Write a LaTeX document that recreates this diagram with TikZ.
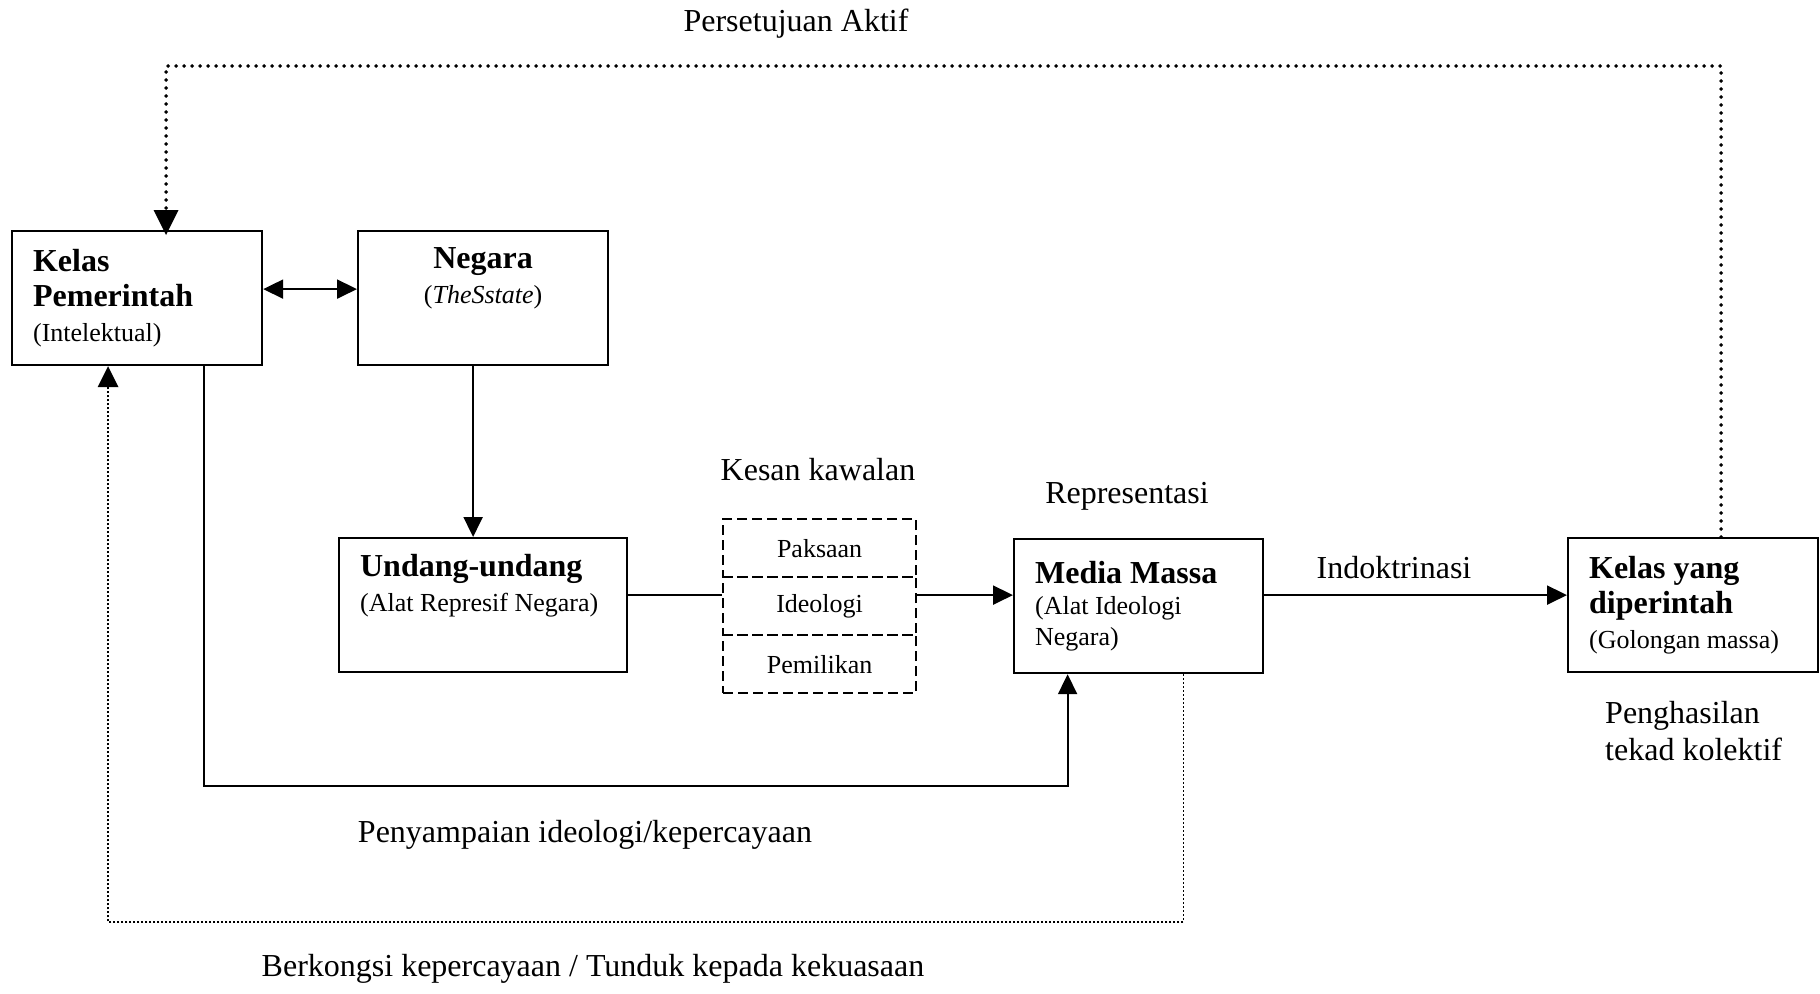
\documentclass[tikz,border=0pt]{standalone}
\usepackage{fontspec}
\setmainfont{Liberation Serif}
\usetikzlibrary{arrows.meta}
\newcommand{\bigf}{\fontsize{32}{35}\selectfont}
\newcommand{\smallf}{\fontsize{26}{35}\selectfont}
\tikzset{
  box/.style={draw, line width=2.2pt, rectangle, inner sep=0pt, inner xsep=21pt, align=flush left, font=\bigf},
  dbox/.style={draw, dash pattern=on 10pt off 5pt, line width=2.2pt, rectangle, inner sep=0pt,
    minimum width=193pt, minimum height=58pt, font=\smallf},
  conn/.style={line width=2pt},
  tip/.style={-{Triangle[length=20pt,width=19pt]}},
  lbl/.style={font=\bigf, inner sep=0pt},
  topdots/.style={line width=3.8pt, dash pattern=on 0pt off 8pt, line cap=round},
  thindots/.style={line width=1.4pt, dash pattern=on 2pt off 2pt},
}
\begin{document}
\begin{tikzpicture}[x=1pt,y=-1pt]
\useasboundingbox (0,0) rectangle (1820,993);
% boxes
\node[box, text width=208pt, minimum width=250pt, minimum height=134pt, anchor=north west] (kp) at (11,230)
  {\textbf{Kelas}\\\textbf{Pemerintah}\\{\smallf (Intelektual)}};
\node[box, align=center, text width=208pt, minimum width=250pt, minimum height=134pt, anchor=north west] (neg) at (357,230)
  {\textbf{Negara}\\{\smallf (\textit{TheSstate})}\\ \strut};
\node[box, text width=246pt, minimum width=288pt, minimum height=134pt, anchor=north west] (und) at (338,537)
  {\textbf{Undang-undang}\\{\smallf\mbox{(Alat Represif Negara)}}\\[-2pt] \strut};
\node[box, text width=207pt, minimum width=249pt, minimum height=134pt, anchor=north west] (med) at (1013,538)
  {\textbf{Media Massa}\\[-4pt]{\smallf (Alat Ideologi}\\[-4pt]{\smallf Negara)}};
\node[box, text width=208pt, minimum width=250pt, minimum height=134pt, anchor=north west] (kyd) at (1567,537)
  {\textbf{Kelas yang}\\\textbf{diperintah}\\{\smallf\mbox{(Golongan massa)}}};
% dashed stack
\node[dbox, anchor=north west] (pak) at (722,518) {Paksaan};
\node[dbox, anchor=north west] (ideo) at (722,576) {Ideologi};
\node[dbox, anchor=north west] (pem) at (722,634) {Pemilikan};
% labels
\node[lbl] (l1) at (796,24) {Persetujuan Aktif};
\node[lbl] (l2) at (818,470) {Kesan kawalan};
\node[lbl] (l3) at (1127,496) {Representasi};
\node[lbl] (l4) at (1394,568) {Indoktrinasi};
\node[lbl, align=left, anchor=west, font=\fontsize{32}{37}\selectfont] (l5) at (1605,731) {Penghasilan\\tekad kolektif};
\node[lbl] (l6) at (585,835) {Penyampaian ideologi/kepercayaan};
\node[lbl] (l7) at (593,969) {Berkongsi kepercayaan / Tunduk kepada kekuasaan};
% coordinates
\coordinate (top) at (0,66);
\coordinate (bot) at (0,786);
\coordinate (bot2) at (0,922);
% connectors
\draw[conn, {Triangle[length=20pt,width=19pt]}-{Triangle[length=20pt,width=19pt]}]
  ([yshift=9pt]kp.east) -- ([yshift=9pt]kp.east -| neg.west);
\draw[conn, tip] ([xshift=-10pt]neg.south) -- ([xshift=-10pt]neg.south |- und.north);
\draw[conn] ([yshift=10pt]und.east) -- ([yshift=10pt]und.east -| ideo.west);
\draw[conn, tip] ([yshift=11pt]ideo.east) -- ([yshift=11pt]ideo.east -| med.west);
\draw[conn, tip] ([yshift=11pt]med.east) -- ([yshift=11pt]med.east -| kyd.west);
\draw[conn, tip] ([xshift=67pt]kp.south) -- ([xshift=67pt]kp.south |- bot) -| ([xshift=-71pt]med.south);
\draw[topdots] ([xshift=28pt]kyd.north) -- ([xshift=28pt]kyd.north |- top) -| ([xshift=29pt,yshift=22pt]kp.north);
\fill ([xshift=29pt,yshift=-5pt]kp.north) -- ++(-12.5pt,25pt) -- ++(25pt,0pt) -- cycle;
\draw[thindots] ([xshift=45pt]med.south) -- ([xshift=45pt]med.south |- bot2) -| ([xshift=-29pt,yshift=-20pt]kp.south);
\fill ([xshift=-29pt]kp.south) -- ++(-10.5pt,-21pt) -- ++(21pt,0pt) -- cycle;
\end{tikzpicture}
\end{document}
